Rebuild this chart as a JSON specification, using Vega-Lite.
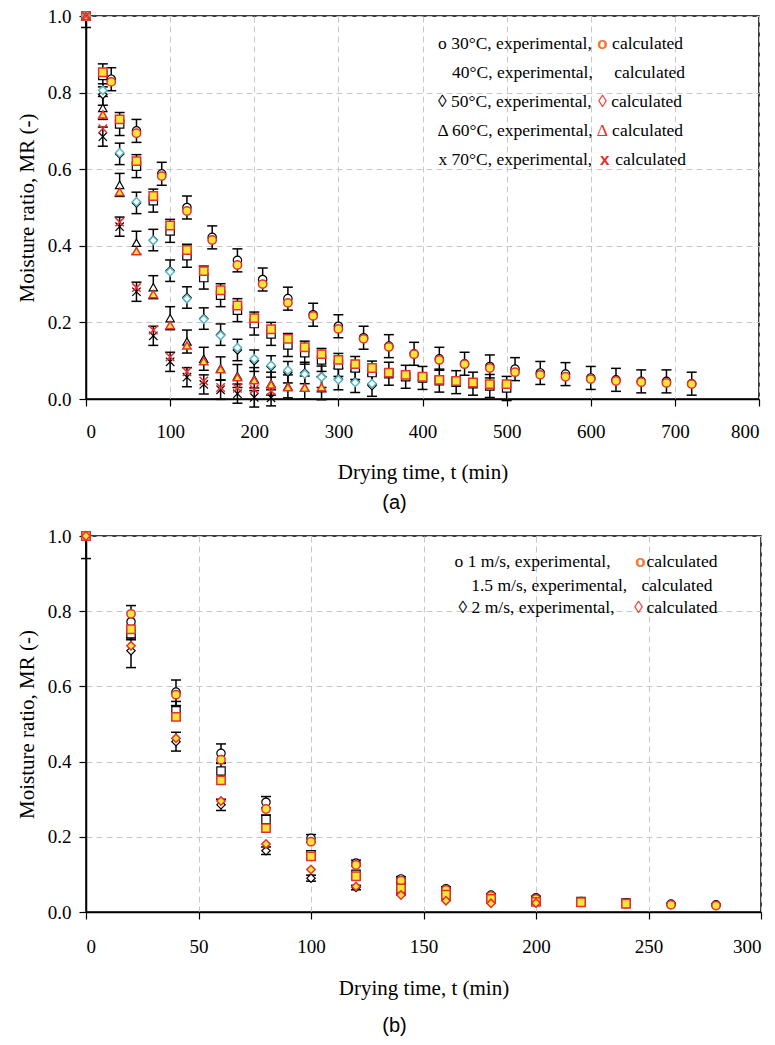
{
  "$schema": "https://vega.github.io/schema/vega-lite/v6.json",
  "background": "white",
  "padding": {"left": 15, "top": 6, "right": 2, "bottom": 2},
  "spacing": 12,
  "config": {
    "font": "Liberation Serif",
    "view": {"stroke": "black", "strokeWidth": 1.5},
    "style": {
      "guide-label": {"font": "Liberation Serif", "fontSize": 19, "fill": "black"},
      "guide-title": {"font": "Liberation Serif", "fontSize": 21, "fill": "black", "fontWeight": "normal"}
    },
    "axis": {
      "labelFont": "Liberation Serif", "titleFont": "Liberation Serif",
      "labelFontSize": 19, "titleFontSize": 21, "titleFontWeight": "normal",
      "labelColor": "black", "titleColor": "black",
      "domainColor": "black", "domainWidth": 1.5,
      "tickColor": "black", "tickWidth": 1.2, "tickSize": 7,
      "gridColor": "#c8c8c8", "gridDash": [6, 4], "gridWidth": 1
    },
    "axisX": {"labelPadding": 16, "titlePadding": 20},
    "axisY": {"labelPadding": 8, "titlePadding": 10}
  },
  "datasets": {
    "a": [
      {"s":"30","t":0,"exp":1,"calc":1,"lo":0.97,"hi":1.0},
      {"s":"30","t":30,"exp":0.835,"calc":0.828,"lo":0.805,"hi":0.865},
      {"s":"30","t":60,"exp":0.700,"calc":0.694,"lo":0.670,"hi":0.730},
      {"s":"30","t":90,"exp":0.588,"calc":0.582,"lo":0.558,"hi":0.618},
      {"s":"30","t":120,"exp":0.500,"calc":0.491,"lo":0.470,"hi":0.530},
      {"s":"30","t":150,"exp":0.422,"calc":0.415,"lo":0.392,"hi":0.452},
      {"s":"30","t":180,"exp":0.362,"calc":0.350,"lo":0.332,"hi":0.392},
      {"s":"30","t":210,"exp":0.312,"calc":0.300,"lo":0.282,"hi":0.342},
      {"s":"30","t":240,"exp":0.262,"calc":0.251,"lo":0.232,"hi":0.292},
      {"s":"30","t":270,"exp":0.220,"calc":0.217,"lo":0.190,"hi":0.250},
      {"s":"30","t":300,"exp":0.190,"calc":0.183,"lo":0.160,"hi":0.220},
      {"s":"30","t":330,"exp":0.160,"calc":0.157,"lo":0.130,"hi":0.190},
      {"s":"30","t":360,"exp":0.138,"calc":0.136,"lo":0.108,"hi":0.168},
      {"s":"30","t":390,"exp":0.118,"calc":0.117,"lo":0.088,"hi":0.148},
      {"s":"30","t":420,"exp":0.105,"calc":0.102,"lo":0.075,"hi":0.135},
      {"s":"30","t":450,"exp":0.092,"calc":0.091,"lo":0.062,"hi":0.122},
      {"s":"30","t":480,"exp":0.085,"calc":0.081,"lo":0.055,"hi":0.115},
      {"s":"30","t":510,"exp":0.078,"calc":0.070,"lo":0.048,"hi":0.108},
      {"s":"30","t":540,"exp":0.068,"calc":0.063,"lo":0.038,"hi":0.098},
      {"s":"30","t":570,"exp":0.065,"calc":0.058,"lo":0.035,"hi":0.095},
      {"s":"30","t":600,"exp":0.055,"calc":0.052,"lo":0.025,"hi":0.085},
      {"s":"30","t":630,"exp":0.050,"calc":0.047,"lo":0.020,"hi":0.080},
      {"s":"30","t":660,"exp":0.046,"calc":0.044,"lo":0.016,"hi":0.076},
      {"s":"30","t":690,"exp":0.046,"calc":0.042,"lo":0.016,"hi":0.076},
      {"s":"30","t":720,"exp":0.040,"calc":0.039,"lo":0.010,"hi":0.070},
      {"s":"40","t":0,"exp":1,"calc":1},
      {"s":"40","t":20,"exp":0.845,"calc":0.853,"lo":0.815,"hi":0.875},
      {"s":"40","t":40,"exp":0.718,"calc":0.730,"lo":0.688,"hi":0.748},
      {"s":"40","t":60,"exp":0.608,"calc":0.621,"lo":0.578,"hi":0.638},
      {"s":"40","t":80,"exp":0.518,"calc":0.530,"lo":0.488,"hi":0.548},
      {"s":"40","t":100,"exp":0.439,"calc":0.453,"lo":0.409,"hi":0.469},
      {"s":"40","t":120,"exp":0.374,"calc":0.389,"lo":0.344,"hi":0.404},
      {"s":"40","t":140,"exp":0.317,"calc":0.334,"lo":0.287,"hi":0.347},
      {"s":"40","t":160,"exp":0.271,"calc":0.284,"lo":0.241,"hi":0.301},
      {"s":"40","t":180,"exp":0.232,"calc":0.244,"lo":0.202,"hi":0.262},
      {"s":"40","t":200,"exp":0.197,"calc":0.211,"lo":0.167,"hi":0.227},
      {"s":"40","t":220,"exp":0.170,"calc":0.182,"lo":0.140,"hi":0.200},
      {"s":"40","t":240,"exp":0.141,"calc":0.157,"lo":0.111,"hi":0.171},
      {"s":"40","t":260,"exp":0.121,"calc":0.135,"lo":0.091,"hi":0.151},
      {"s":"40","t":280,"exp":0.102,"calc":0.117,"lo":0.072,"hi":0.132},
      {"s":"40","t":300,"exp":0.089,"calc":0.102,"lo":0.059,"hi":0.119},
      {"s":"40","t":320,"exp":0.081,"calc":0.091,"lo":0.051,"hi":0.111},
      {"s":"40","t":340,"exp":0.069,"calc":0.081,"lo":0.039,"hi":0.099},
      {"s":"40","t":360,"exp":0.066,"calc":0.069,"lo":0.036,"hi":0.096},
      {"s":"40","t":380,"exp":0.058,"calc":0.063,"lo":0.028,"hi":0.088},
      {"s":"40","t":400,"exp":0.055,"calc":0.058,"lo":0.025,"hi":0.085},
      {"s":"40","t":420,"exp":0.048,"calc":0.050,"lo":0.018,"hi":0.078},
      {"s":"40","t":440,"exp":0.044,"calc":0.047,"lo":0.014,"hi":0.074},
      {"s":"40","t":460,"exp":0.040,"calc":0.043,"lo":0.010,"hi":0.070},
      {"s":"40","t":480,"exp":0.034,"calc":0.039,"lo":0.004,"hi":0.064},
      {"s":"40","t":500,"exp":0.029,"calc":0.039,"lo":-0.004,"hi":0.059},
      {"s":"50","t":0,"exp":1,"calc":1},
      {"s":"50","t":20,"exp":0.795,"calc":0.806,"lo":0.767,"hi":0.823},
      {"s":"50","t":40,"exp":0.640,"calc":0.643,"lo":0.612,"hi":0.668},
      {"s":"50","t":60,"exp":0.512,"calc":0.515,"lo":0.484,"hi":0.540},
      {"s":"50","t":80,"exp":0.415,"calc":0.414,"lo":0.387,"hi":0.443},
      {"s":"50","t":100,"exp":0.335,"calc":0.332,"lo":0.307,"hi":0.363},
      {"s":"50","t":120,"exp":0.265,"calc":0.262,"lo":0.237,"hi":0.293},
      {"s":"50","t":140,"exp":0.210,"calc":0.208,"lo":0.182,"hi":0.238},
      {"s":"50","t":160,"exp":0.168,"calc":0.166,"lo":0.140,"hi":0.196},
      {"s":"50","t":180,"exp":0.128,"calc":0.134,"lo":0.100,"hi":0.156},
      {"s":"50","t":200,"exp":0.100,"calc":0.105,"lo":0.072,"hi":0.128},
      {"s":"50","t":220,"exp":0.085,"calc":0.088,"lo":0.057,"hi":0.113},
      {"s":"50","t":240,"exp":0.070,"calc":0.075,"lo":0.042,"hi":0.098},
      {"s":"50","t":260,"exp":0.068,"calc":0.065,"lo":0.040,"hi":0.096},
      {"s":"50","t":280,"exp":0.058,"calc":0.057,"lo":0.030,"hi":0.086},
      {"s":"50","t":300,"exp":0.052,"calc":0.050,"lo":0.024,"hi":0.080},
      {"s":"50","t":320,"exp":0.045,"calc":0.043,"lo":0.017,"hi":0.073},
      {"s":"50","t":340,"exp":0.035,"calc":0.040,"lo":0.007,"hi":0.063},
      {"s":"60","t":0,"exp":1,"calc":1},
      {"s":"60","t":20,"exp":0.760,"calc":0.743,"lo":0.730,"hi":0.790},
      {"s":"60","t":40,"exp":0.559,"calc":0.541,"lo":0.529,"hi":0.589},
      {"s":"60","t":60,"exp":0.408,"calc":0.386,"lo":0.378,"hi":0.438},
      {"s":"60","t":80,"exp":0.292,"calc":0.274,"lo":0.262,"hi":0.322},
      {"s":"60","t":100,"exp":0.211,"calc":0.193,"lo":0.181,"hi":0.241},
      {"s":"60","t":120,"exp":0.150,"calc":0.140,"lo":0.120,"hi":0.180},
      {"s":"60","t":140,"exp":0.105,"calc":0.099,"lo":0.075,"hi":0.135},
      {"s":"60","t":160,"exp":0.080,"calc":0.078,"lo":0.050,"hi":0.110},
      {"s":"60","t":180,"exp":0.060,"calc":0.057,"lo":0.030,"hi":0.090},
      {"s":"60","t":200,"exp":0.052,"calc":0.049,"lo":0.022,"hi":0.082},
      {"s":"60","t":220,"exp":0.040,"calc":0.038,"lo":0.010,"hi":0.070},
      {"s":"60","t":240,"exp":0.033,"calc":0.031,"lo":0.003,"hi":0.063},
      {"s":"60","t":260,"exp":0.030,"calc":0.030,"lo":0.000,"hi":0.060},
      {"s":"60","t":280,"exp":0.028,"calc":0.031,"lo":-0.002,"hi":0.058},
      {"s":"70","t":0,"exp":1,"calc":1},
      {"s":"70","t":20,"exp":0.685,"calc":0.706,"lo":0.660,"hi":0.710},
      {"s":"70","t":40,"exp":0.450,"calc":0.462,"lo":0.425,"hi":0.475},
      {"s":"70","t":60,"exp":0.280,"calc":0.291,"lo":0.255,"hi":0.305},
      {"s":"70","t":80,"exp":0.165,"calc":0.180,"lo":0.140,"hi":0.190},
      {"s":"70","t":100,"exp":0.097,"calc":0.110,"lo":0.072,"hi":0.122},
      {"s":"70","t":120,"exp":0.057,"calc":0.071,"lo":0.032,"hi":0.082},
      {"s":"70","t":140,"exp":0.038,"calc":0.047,"lo":0.013,"hi":0.063},
      {"s":"70","t":160,"exp":0.024,"calc":0.030,"lo":-0.001,"hi":0.049},
      {"s":"70","t":180,"exp":0.014,"calc":0.028,"lo":-0.011,"hi":0.039},
      {"s":"70","t":200,"exp":0.004,"calc":0.025,"lo":-0.021,"hi":0.029},
      {"s":"70","t":220,"exp":0.003,"calc":0.021,"lo":-0.018,"hi":0.024}
    ],
    "b": [
      {"s":"1","t":0,"exp":1,"calc":1,"lo":0.94,"hi":1.0},
      {"s":"1","t":20,"exp":0.772,"calc":0.793,"lo":0.729,"hi":0.815},
      {"s":"1","t":40,"exp":0.585,"calc":0.578,"lo":0.549,"hi":0.617},
      {"s":"1","t":60,"exp":0.422,"calc":0.405,"lo":0.397,"hi":0.447},
      {"s":"1","t":80,"exp":0.292,"calc":0.274,"lo":0.277,"hi":0.307},
      {"s":"1","t":100,"exp":0.196,"calc":0.187,"lo":0.186,"hi":0.206},
      {"s":"1","t":120,"exp":0.130,"calc":0.125,"lo":0.122,"hi":0.138},
      {"s":"1","t":140,"exp":0.088,"calc":0.083,"lo":0.082,"hi":0.094},
      {"s":"1","t":160,"exp":0.062,"calc":0.059,"lo":0.057,"hi":0.067},
      {"s":"1","t":180,"exp":0.045,"calc":0.043,"lo":0.041,"hi":0.049},
      {"s":"1","t":200,"exp":0.038,"calc":0.035,"lo":0.034,"hi":0.042},
      {"s":"1","t":220,"exp":0.028,"calc":0.026,"lo":0.025,"hi":0.031},
      {"s":"1","t":240,"exp":0.024,"calc":0.022,"lo":0.021,"hi":0.027},
      {"s":"1","t":260,"exp":0.021,"calc":0.019,"lo":0.019,"hi":0.023},
      {"s":"1","t":280,"exp":0.019,"calc":0.017,"lo":0.017,"hi":0.021},
      {"s":"1.5","t":0,"exp":1,"calc":1},
      {"s":"1.5","t":20,"exp":0.740,"calc":0.752,"lo":0.724,"hi":0.756},
      {"s":"1.5","t":40,"exp":0.535,"calc":0.519,"lo":0.510,"hi":0.560},
      {"s":"1.5","t":60,"exp":0.375,"calc":0.350,"lo":0.355,"hi":0.395},
      {"s":"1.5","t":80,"exp":0.246,"calc":0.223,"lo":0.234,"hi":0.258},
      {"s":"1.5","t":100,"exp":0.152,"calc":0.148,"lo":0.142,"hi":0.162},
      {"s":"1.5","t":120,"exp":0.100,"calc":0.095,"lo":0.093,"hi":0.107},
      {"s":"1.5","t":140,"exp":0.068,"calc":0.063,"lo":0.063,"hi":0.073},
      {"s":"1.5","t":160,"exp":0.050,"calc":0.046,"lo":0.046,"hi":0.054},
      {"s":"1.5","t":180,"exp":0.038,"calc":0.035,"lo":0.035,"hi":0.041},
      {"s":"1.5","t":200,"exp":0.030,"calc":0.027,"lo":0.027,"hi":0.033},
      {"s":"1.5","t":220,"exp":0.028,"calc":0.026,"lo":0.025,"hi":0.031},
      {"s":"1.5","t":240,"exp":0.024,"calc":0.022,"lo":0.021,"hi":0.027},
      {"s":"2","t":0,"exp":1,"calc":1},
      {"s":"2","t":20,"exp":0.695,"calc":0.708,"lo":0.650,"hi":0.740},
      {"s":"2","t":40,"exp":0.453,"calc":0.462,"lo":0.428,"hi":0.478},
      {"s":"2","t":60,"exp":0.285,"calc":0.295,"lo":0.270,"hi":0.300},
      {"s":"2","t":80,"exp":0.163,"calc":0.181,"lo":0.153,"hi":0.173},
      {"s":"2","t":100,"exp":0.090,"calc":0.113,"lo":0.082,"hi":0.098},
      {"s":"2","t":120,"exp":0.065,"calc":0.068,"lo":0.059,"hi":0.071},
      {"s":"2","t":140,"exp":0.050,"calc":0.045,"lo":0.045,"hi":0.055},
      {"s":"2","t":160,"exp":0.035,"calc":0.030,"lo":0.031,"hi":0.039},
      {"s":"2","t":180,"exp":0.028,"calc":0.023,"lo":0.025,"hi":0.031},
      {"s":"2","t":200,"exp":0.025,"calc":0.024,"lo":0.022,"hi":0.028}
    ],
    "legA": [
      {"t":418.5,"mr":0.928,"label":"o 30°C, experimental,","role":"txt"},
      {"t":607.6,"mr":0.928,"label":"o","role":"o"},
      {"t":625.4,"mr":0.928,"label":"calculated","role":"txt"},
      {"t":435.2,"mr":0.852,"label":"40°C, experimental,","role":"txt"},
      {"t":627.8,"mr":0.852,"label":"calculated","role":"txt"},
      {"t":418.5,"mr":0.776,"label":"◊ 50°C, experimental,","role":"txt"},
      {"t":608.8,"mr":0.776,"label":"◊","role":"red"},
      {"t":624.3,"mr":0.776,"label":"calculated","role":"txt"},
      {"t":417.7,"mr":0.700,"label":"Δ 60°C, experimental,","role":"txt"},
      {"t":607.2,"mr":0.700,"label":"Δ","role":"red"},
      {"t":625.4,"mr":0.700,"label":"calculated","role":"txt"},
      {"t":418.9,"mr":0.623,"label":"x 70°C, experimental,","role":"txt"},
      {"t":611.0,"mr":0.623,"label":"x","role":"o"},
      {"t":629.0,"mr":0.623,"label":"calculated","role":"txt"}
    ],
    "legB": [
      {"t":163.8,"mr":0.930,"label":"o 1 m/s, experimental,","role":"txt"},
      {"t":244.1,"mr":0.930,"label":"o","role":"o"},
      {"t":249.1,"mr":0.930,"label":"calculated","role":"txt"},
      {"t":171.2,"mr":0.868,"label":"1.5 m/s, experimental,","role":"txt"},
      {"t":246.9,"mr":0.868,"label":"calculated","role":"txt"},
      {"t":165.6,"mr":0.808,"label":"◊ 2 m/s, experimental,","role":"txt"},
      {"t":243.7,"mr":0.808,"label":"◊","role":"red"},
      {"t":249.1,"mr":0.808,"label":"calculated","role":"txt"}
    ]
  },
  "vconcat": [
    {
      "width": 673,
      "height": 383,
      "title": {"text": "(a)", "orient": "bottom", "offset": 11, "dx": -28, "font": "Liberation Sans", "fontSize": 20, "fontWeight": "normal", "color": "black"},
      "encoding": {
        "x": {"field": "t", "type": "quantitative", "title": "Drying time, t (min)",
              "scale": {"domain": [0, 800], "nice": false},
              "axis": {"values": [0,100,200,300,400,500,600,700,800], "format": "d", "labelFont": "Liberation Serif", "titleFont": "Liberation Serif"}}
      },
      "layer": [
        {"data": {"name": "a"},
         "mark": {"type": "rule", "color": "black", "strokeWidth": 1.5},
         "encoding": {
           "y": {"field": "lo", "type": "quantitative", "title": "Moisture ratio, MR (-)",
                 "scale": {"domain": [0, 1], "nice": false},
                 "axis": {"values": [0,0.2,0.4,0.6,0.8,1], "format": ".1f", "labelFont": "Liberation Serif", "titleFont": "Liberation Serif"}},
           "y2": {"field": "hi"}}},
        {"data": {"name": "a"},
         "mark": {"type": "tick", "orient": "horizontal", "color": "black", "size": 10, "thickness": 1.5, "opacity": 1},
         "encoding": {"y": {"field": "lo", "type": "quantitative", "title": "Moisture ratio, MR (-)"}}},
        {"data": {"name": "a"},
         "mark": {"type": "tick", "orient": "horizontal", "color": "black", "size": 10, "thickness": 1.5, "opacity": 1},
         "encoding": {"y": {"field": "hi", "type": "quantitative", "title": "Moisture ratio, MR (-)"}}},
        {"data": {"name": "a"},
         "mark": {"type": "point", "filled": true, "fill": "white", "stroke": "black", "strokeWidth": 1.2, "size": 70, "opacity": 1},
         "encoding": {
           "y": {"field": "exp", "type": "quantitative", "title": "Moisture ratio, MR (-)"},
           "shape": {"field": "s", "type": "nominal", "legend": null,
                     "scale": {"domain": ["30","40","50","60","70"], "range": ["circle","square","diamond","triangle-up","M-1,-1L1,1M-1,1L1,-1"]}}}},
        {"data": {"name": "a"},
         "mark": {"type": "point", "filled": true, "strokeWidth": 1.5, "size": 70, "opacity": 1},
         "encoding": {
           "y": {"field": "calc", "type": "quantitative", "title": "Moisture ratio, MR (-)"},
           "shape": {"field": "s", "type": "nominal", "legend": null},
           "fill": {"field": "s", "type": "nominal", "legend": null,
                    "scale": {"domain": ["30","40","50","60","70"], "range": ["#f5e63a","#f5e63a","#ffffff","#f5e63a","transparent"]}},
           "stroke": {"field": "s", "type": "nominal", "legend": null,
                      "scale": {"domain": ["30","40","50","60","70"], "range": ["#e8302f","#e8302f","#55b8c8","#e8302f","#ee2a2a"]}}}},
        {"data": {"name": "legA"},
         "transform": [{"filter": "datum.role === 'txt'"}],
         "mark": {"type": "text", "align": "left", "baseline": "middle", "font": "Liberation Serif", "fontSize": 17.5, "color": "black"},
         "encoding": {"y": {"field": "mr", "type": "quantitative", "title": "Moisture ratio, MR (-)"}, "text": {"field": "label"}}},
        {"data": {"name": "legA"},
         "transform": [{"filter": "datum.role === 'o'"}],
         "mark": {"type": "text", "align": "left", "baseline": "middle", "font": "Liberation Sans", "fontSize": 17, "fontWeight": "bold"},
         "encoding": {"y": {"field": "mr", "type": "quantitative", "title": "Moisture ratio, MR (-)"}, "text": {"field": "label"},
                      "color": {"field": "label", "type": "nominal", "legend": null, "scale": {"domain": ["o","x"], "range": ["#f07830","#ee2a2a"]}}}},
        {"data": {"name": "legA"},
         "transform": [{"filter": "datum.role === 'red'"}],
         "mark": {"type": "text", "align": "left", "baseline": "middle", "font": "Liberation Serif", "fontSize": 17.5, "color": "#ee2a2a"},
         "encoding": {"y": {"field": "mr", "type": "quantitative", "title": "Moisture ratio, MR (-)"}, "text": {"field": "label"}}}
      ]
    },
    {
      "width": 675,
      "height": 376,
      "title": {"text": "(b)", "orient": "bottom", "offset": 18, "dx": -29, "font": "Liberation Sans", "fontSize": 20, "fontWeight": "normal", "color": "black"},
      "encoding": {
        "x": {"field": "t", "type": "quantitative", "title": "Drying time, t (min)",
              "scale": {"domain": [0, 300], "nice": false},
              "axis": {"values": [0,50,100,150,200,250,300], "format": "d", "labelFont": "Liberation Serif", "titleFont": "Liberation Serif", "labelPadding": 18, "titlePadding": 21}}
      },
      "layer": [
        {"data": {"name": "b"},
         "mark": {"type": "rule", "color": "black", "strokeWidth": 1.5},
         "encoding": {
           "y": {"field": "lo", "type": "quantitative", "title": "Moisture ratio, MR (-)",
                 "scale": {"domain": [0, 1], "nice": false},
                 "axis": {"values": [0,0.2,0.4,0.6,0.8,1], "format": ".1f", "labelFont": "Liberation Serif", "titleFont": "Liberation Serif"}},
           "y2": {"field": "hi"}}},
        {"data": {"name": "b"},
         "mark": {"type": "tick", "orient": "horizontal", "color": "black", "size": 10, "thickness": 1.5, "opacity": 1},
         "encoding": {"y": {"field": "lo", "type": "quantitative", "title": "Moisture ratio, MR (-)"}}},
        {"data": {"name": "b"},
         "mark": {"type": "tick", "orient": "horizontal", "color": "black", "size": 10, "thickness": 1.5, "opacity": 1},
         "encoding": {"y": {"field": "hi", "type": "quantitative", "title": "Moisture ratio, MR (-)"}}},
        {"data": {"name": "b"},
         "mark": {"type": "point", "filled": true, "fill": "white", "stroke": "black", "strokeWidth": 1.2, "size": 70, "opacity": 1},
         "encoding": {
           "y": {"field": "exp", "type": "quantitative", "title": "Moisture ratio, MR (-)"},
           "shape": {"field": "s", "type": "nominal", "legend": null,
                     "scale": {"domain": ["1","1.5","2"], "range": ["circle","square","diamond"]}}}},
        {"data": {"name": "b"},
         "mark": {"type": "point", "filled": true, "fill": "#f5e63a", "stroke": "#e8302f", "strokeWidth": 1.5, "size": 70, "opacity": 1},
         "encoding": {
           "y": {"field": "calc", "type": "quantitative", "title": "Moisture ratio, MR (-)"},
           "shape": {"field": "s", "type": "nominal", "legend": null}}},
        {"data": {"name": "legB"},
         "transform": [{"filter": "datum.role === 'txt'"}],
         "mark": {"type": "text", "align": "left", "baseline": "middle", "font": "Liberation Serif", "fontSize": 17.5, "color": "black"},
         "encoding": {"y": {"field": "mr", "type": "quantitative", "title": "Moisture ratio, MR (-)"}, "text": {"field": "label"}}},
        {"data": {"name": "legB"},
         "transform": [{"filter": "datum.role === 'o'"}],
         "mark": {"type": "text", "align": "left", "baseline": "middle", "font": "Liberation Sans", "fontSize": 17, "fontWeight": "bold", "color": "#f07830"},
         "encoding": {"y": {"field": "mr", "type": "quantitative", "title": "Moisture ratio, MR (-)"}, "text": {"field": "label"}}},
        {"data": {"name": "legB"},
         "transform": [{"filter": "datum.role === 'red'"}],
         "mark": {"type": "text", "align": "left", "baseline": "middle", "font": "Liberation Serif", "fontSize": 17.5, "color": "#ee2a2a"},
         "encoding": {"y": {"field": "mr", "type": "quantitative", "title": "Moisture ratio, MR (-)"}, "text": {"field": "label"}}}
      ]
    }
  ]
}
